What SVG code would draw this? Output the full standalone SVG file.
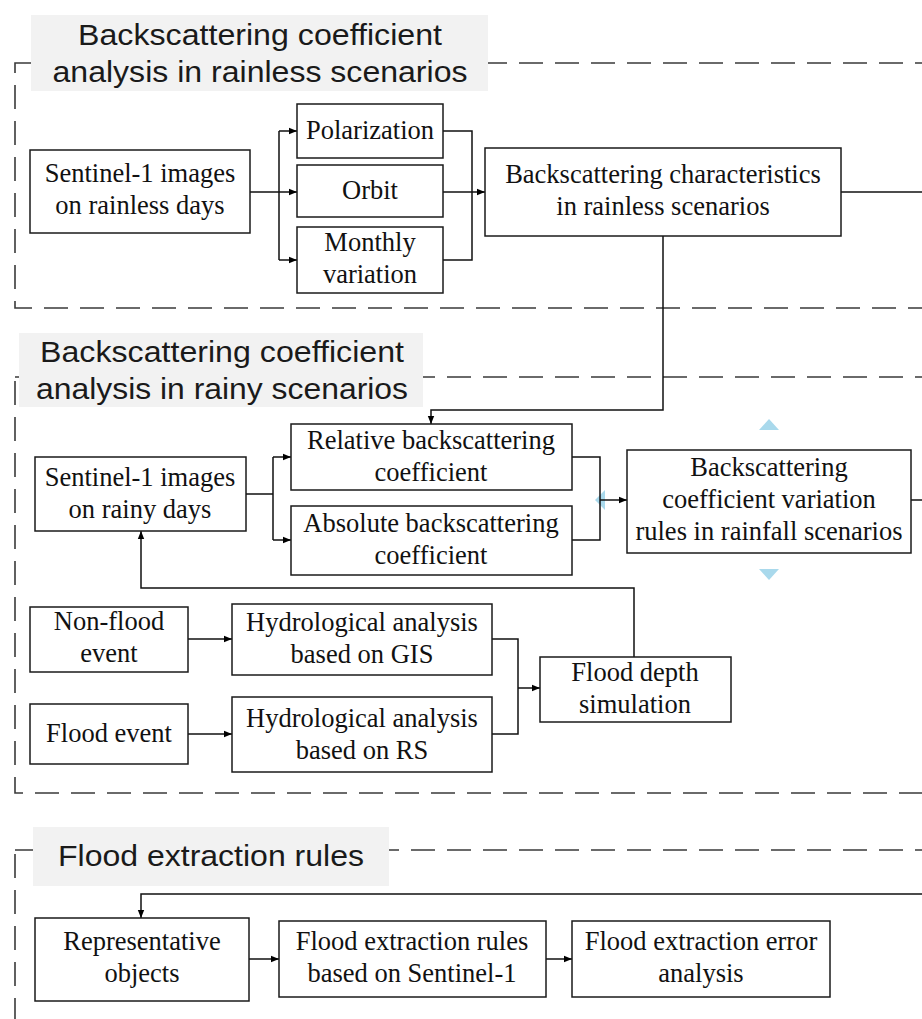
<svg xmlns="http://www.w3.org/2000/svg" width="922" height="1019" viewBox="0 0 922 1019">
<defs>
<marker id="arr" viewBox="0 0 10 10" refX="10" refY="5" markerWidth="8" markerHeight="8" markerUnits="userSpaceOnUse" orient="auto">
<path d="M0,1 L10,5 L0,9 Z" fill="#000"/>
</marker>
<style>
.sec{fill:none;stroke:#3a3a3a;stroke-width:1.6;stroke-dasharray:24 12}
.ttl{fill:#f2f2f2;stroke:none}
.tt{font-family:"Liberation Sans",Arial,sans-serif;font-size:30px;fill:#1a1a1a;text-anchor:middle}
.box{fill:#fff;stroke:#1a1a1a;stroke-width:1.5}
.t{font-family:"Liberation Serif","Times New Roman",serif;font-size:26.5px;fill:#111;text-anchor:middle}
.c{fill:none;stroke:#111;stroke-width:1.5}
.blue{fill:#a9d9ec}
</style>
</defs>
<rect width="922" height="1019" fill="#fff"/>

<g id="sections">
<rect class="sec" x="15" y="63" width="930" height="245"/>
<rect class="sec" x="15" y="377" width="930" height="416"/>
<rect class="sec" x="15" y="850" width="930" height="200"/>
</g>

<g id="title1">
<rect class="ttl" x="31" y="15" width="457" height="76"/>
<text class="tt" x="260" y="45" textLength="364" lengthAdjust="spacingAndGlyphs">Backscattering coefficient</text>
<text class="tt" x="260" y="82" textLength="415" lengthAdjust="spacingAndGlyphs">analysis in rainless scenarios</text>
</g>
<g id="title2">
<rect class="ttl" x="19" y="333" width="404" height="74"/>
<text class="tt" x="222" y="362" textLength="364" lengthAdjust="spacingAndGlyphs">Backscattering coefficient</text>
<text class="tt" x="222" y="399" textLength="372" lengthAdjust="spacingAndGlyphs">analysis in rainy scenarios</text>
</g>
<g id="title3">
<rect class="ttl" x="33" y="827" width="356" height="59"/>
<text class="tt" x="211" y="866" textLength="306" lengthAdjust="spacingAndGlyphs">Flood extraction rules</text>
</g>

<g id="connectors">
<path class="blue" d="M595,500 L605,490 L605,510 Z"/>
<path class="blue" d="M769,419 L779,430 L759,430 Z"/>
<path class="blue" d="M769,580 L779,569 L759,569 Z"/>

<path class="c" d="M250,192 H279 M279,131 V260"/>
<path class="c" d="M279,131 H297" marker-end="url(#arr)"/>
<path class="c" d="M279,192 H297" marker-end="url(#arr)"/>
<path class="c" d="M279,260 H297" marker-end="url(#arr)"/>
<path class="c" d="M443,131 H472 V260 H443"/>
<path class="c" d="M443,192 H485" marker-end="url(#arr)"/>
<path class="c" d="M841,192 H922"/>
<path class="c" d="M663,236 V410 H431 V424" marker-end="url(#arr)"/>

<path class="c" d="M246,494 H273 M273,457 V540"/>
<path class="c" d="M273,457 H291" marker-end="url(#arr)"/>
<path class="c" d="M273,540 H291" marker-end="url(#arr)"/>
<path class="c" d="M572,457 H600 V540 H572"/>
<path class="c" d="M600,500 H627" marker-end="url(#arr)"/>
<path class="c" d="M911,500 H922"/>
<path class="c" d="M634,657 V588 H141 V531" marker-end="url(#arr)"/>

<path class="c" d="M188,639 H232" marker-end="url(#arr)"/>
<path class="c" d="M188,734 H232" marker-end="url(#arr)"/>
<path class="c" d="M492,639 H518 V734 H492"/>
<path class="c" d="M518,688 H540" marker-end="url(#arr)"/>

<path class="c" d="M922,894 H141 V918" marker-end="url(#arr)"/>
<path class="c" d="M249,959 H279" marker-end="url(#arr)"/>
<path class="c" d="M546,959 H572" marker-end="url(#arr)"/>
</g>

<g id="n-s1-rainless">
<rect class="box" x="30" y="150" width="220" height="83"/>
<text class="t" x="140" y="182">Sentinel-1 images</text>
<text class="t" x="140" y="214">on rainless days</text>
</g>
<g id="n-polarization">
<rect class="box" x="297" y="104" width="146" height="54"/>
<text class="t" x="370" y="139">Polarization</text>
</g>
<g id="n-orbit">
<rect class="box" x="297" y="165" width="146" height="52"/>
<text class="t" x="370" y="199">Orbit</text>
</g>
<g id="n-monthly">
<rect class="box" x="297" y="227" width="146" height="66"/>
<text class="t" x="370" y="251">Monthly</text>
<text class="t" x="370" y="283">variation</text>
</g>
<g id="n-char">
<rect class="box" x="485" y="148" width="356" height="88"/>
<text class="t" x="663" y="183">Backscattering characteristics</text>
<text class="t" x="663" y="215">in rainless scenarios</text>
</g>

<g id="n-s1-rainy">
<rect class="box" x="35" y="457" width="211" height="74"/>
<text class="t" x="140" y="486">Sentinel-1 images</text>
<text class="t" x="140" y="518">on rainy days</text>
</g>
<g id="n-relative">
<rect class="box" x="291" y="424" width="281" height="66"/>
<text class="t" x="431" y="449">Relative backscattering</text>
<text class="t" x="431" y="481">coefficient</text>
</g>
<g id="n-absolute">
<rect class="box" x="291" y="506" width="281" height="69"/>
<text class="t" x="431" y="532">Absolute backscattering</text>
<text class="t" x="431" y="564">coefficient</text>
</g>
<g id="n-variation">
<rect class="box" x="627" y="450" width="284" height="103"/>
<text class="t" x="769" y="476">Backscattering</text>
<text class="t" x="769" y="508">coefficient variation</text>
<text class="t" x="769" y="540">rules in rainfall scenarios</text>
</g>
<g id="n-nonflood">
<rect class="box" x="30" y="607" width="158" height="65"/>
<text class="t" x="109" y="630">Non-flood</text>
<text class="t" x="109" y="662">event</text>
</g>
<g id="n-flood">
<rect class="box" x="30" y="704" width="158" height="60"/>
<text class="t" x="109" y="742">Flood event</text>
</g>
<g id="n-gis">
<rect class="box" x="232" y="604" width="260" height="71"/>
<text class="t" x="362" y="631">Hydrological analysis</text>
<text class="t" x="362" y="663">based on GIS</text>
</g>
<g id="n-rs">
<rect class="box" x="232" y="697" width="260" height="75"/>
<text class="t" x="362" y="727">Hydrological analysis</text>
<text class="t" x="362" y="759">based on RS</text>
</g>
<g id="n-depth">
<rect class="box" x="540" y="657" width="191" height="65"/>
<text class="t" x="635" y="681">Flood depth</text>
<text class="t" x="635" y="713">simulation</text>
</g>

<g id="n-representative">
<rect class="box" x="35" y="918" width="214" height="83"/>
<text class="t" x="142" y="950">Representative</text>
<text class="t" x="142" y="982">objects</text>
</g>
<g id="n-rules">
<rect class="box" x="279" y="921" width="267" height="76"/>
<text class="t" x="412" y="950">Flood extraction rules</text>
<text class="t" x="412" y="982">based on Sentinel-1</text>
</g>
<g id="n-error">
<rect class="box" x="572" y="921" width="258" height="76"/>
<text class="t" x="701" y="950">Flood extraction error</text>
<text class="t" x="701" y="982">analysis</text>
</g>
</svg>
